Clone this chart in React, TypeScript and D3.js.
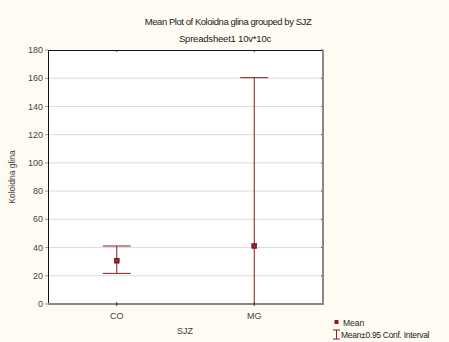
import React from "react";
import * as d3 from "d3";

// Group means with 0.95 confidence limits
const groups = ["CO", "MG"];
const means = [30.7, 41.1];
const lowerCI = [21.7, -78.2];
const upperCI = [41.1, 160.4];
const yTicks = [0, 20, 40, 60, 80, 100, 120, 140, 160, 180];

const W = 449;
const H = 342;
const plot = { left: 48, right: 323, top: 50, bottom: 304 };
const RED = "#8b1a1a";
const FONT = "'Liberation Sans', Arial, sans-serif";

export default function App() {
  const x = d3
    .scalePoint<string>()
    .domain(groups)
    .range([plot.left, plot.right])
    .padding(0.5);
  const y = d3.scaleLinear().domain([0, 180]).range([plot.bottom, plot.top]);
  const clampY = (v: number) => Math.max(plot.top, Math.min(plot.bottom, y(v)));
  const capHalf = 14;

  return (
    <svg
      width={W}
      height={H}
      style={{ position: "absolute", left: 0, top: 0, display: "block" }}
      fontFamily={FONT}
    >
      <rect x={0} y={0} width={W} height={H} fill="#fffbf3" />
      <text x={228} y={24.5} textAnchor="middle" fontSize={9.5} fill="#222" letterSpacing={-0.45}>
        Mean Plot of Koloidna glina grouped by  SJZ
      </text>
      <text x={225} y={42} textAnchor="middle" fontSize={9.5} fill="#222" letterSpacing={-0.2}>
        Spreadsheet1 10v*10c
      </text>

      {/* plot area */}
      <rect
        x={plot.left}
        y={plot.top}
        width={plot.right - plot.left}
        height={plot.bottom - plot.top}
        fill="#ffffff"
      />
      {yTicks.map((t) => (
        <g key={t}>
          {t > 0 && t < 180 && (
            <line
              x1={plot.left}
              x2={plot.right}
              y1={y(t)}
              y2={y(t)}
              stroke="#dcdcdc"
              strokeWidth={1}
            />
          )}
          <line x1={plot.left - 3} x2={plot.left} y1={y(t)} y2={y(t)} stroke="#999" />
          <line x1={plot.right - 2} x2={plot.right} y1={y(t)} y2={y(t)} stroke="#555" />
          <text
            x={plot.left - 5}
            y={y(t)}
            dy="0.35em"
            textAnchor="end"
            fontSize={9}
            fill="#444"
          >
            {t}
          </text>
        </g>
      ))}

      {/* frame */}
      <line x1={plot.left} x2={plot.right} y1={plot.top + 0.5} y2={plot.top + 0.5} stroke="#111" />
      <line x1={plot.left + 0.5} x2={plot.left + 0.5} y1={plot.top} y2={plot.bottom} stroke="#111" />
      <line x1={plot.right} x2={plot.right} y1={plot.top} y2={plot.bottom + 1} stroke="#888" strokeWidth={2} />
      <line x1={plot.left} x2={plot.right + 1} y1={plot.bottom} y2={plot.bottom} stroke="#888" strokeWidth={2} />

      {groups.map((g, i) => {
        const cx = x(g)!;
        return (
          <g key={g}>
            <line x1={cx} x2={cx} y1={plot.top} y2={plot.top + 2} stroke="#333" />
            <line x1={cx} x2={cx} y1={plot.bottom - 2} y2={plot.bottom + 2} stroke="#333" />
            <text x={cx} y={319} textAnchor="middle" fontSize={9} fill="#444">
              {g}
            </text>
            <line
              x1={cx}
              x2={cx}
              y1={clampY(upperCI[i])}
              y2={clampY(lowerCI[i])}
              stroke={RED}
              strokeWidth={1}
            />
            {upperCI[i] <= 180 && (
              <line
                x1={cx - capHalf}
                x2={cx + capHalf}
                y1={y(upperCI[i])}
                y2={y(upperCI[i])}
                stroke={RED}
              />
            )}
            {lowerCI[i] >= 0 && (
              <line
                x1={cx - capHalf}
                x2={cx + capHalf}
                y1={y(lowerCI[i])}
                y2={y(lowerCI[i])}
                stroke={RED}
              />
            )}
            <rect
              x={cx - 2.5}
              y={y(means[i]) - 2.5}
              width={5}
              height={5}
              fill={RED}
              stroke="#6e1010"
              strokeWidth={0.5}
            />
            <rect x={cx - 0.5} y={y(means[i]) - 0.5} width={1} height={1} fill="#c98080" />
          </g>
        );
      })}

      {/* axis titles */}
      <text
        transform={`translate(15,${(plot.top + plot.bottom) / 2}) rotate(-90)`}
        textAnchor="middle"
        fontSize={8.5}
        fill="#444"
      >
        Koloidna glina
      </text>
      <text x={185} y={334} textAnchor="middle" fontSize={9} fill="#444">
        SJZ
      </text>

      {/* legend */}
      <rect x={334.5} y={320} width={4} height={4} fill={RED} />
      <text x={343} y={325.5} fontSize={8.5} fill="#222">
        Mean
      </text>
      <line x1={336.5} x2={336.5} y1={330} y2={339} stroke={RED} />
      <line x1={333} x2={340} y1={330} y2={330} stroke={RED} />
      <line x1={333} x2={340} y1={339} y2={339} stroke={RED} />
      <text x={341} y={338} fontSize={8.5} fill="#222" letterSpacing={-0.3}>
        Mean±0.95 Conf. Interval
      </text>
    </svg>
  );
}
